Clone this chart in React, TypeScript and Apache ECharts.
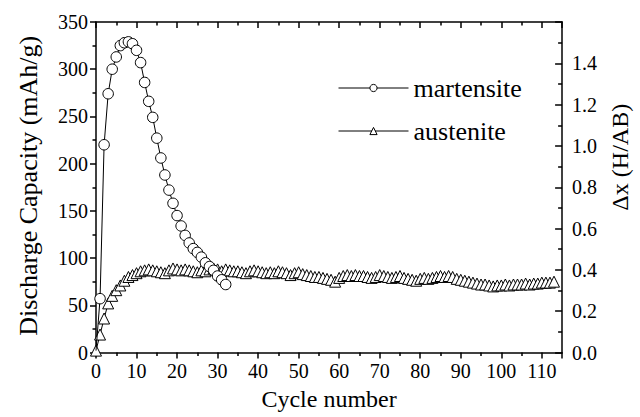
import React, { useEffect, useRef } from "react";
import * as echarts from "echarts";

const martensiteCycles = [0, 1, 2, 3, 4, 5, 6, 7, 8, 9, 10, 11, 12, 13, 14, 15, 16, 17, 18, 19, 20, 21, 22, 23, 24, 25, 26, 27, 28, 29, 30, 31, 32];
const martensiteCapacity = [2, 57, 220, 274, 300, 313, 325, 328, 329, 327, 320, 307, 286, 266, 249, 227, 206, 188, 172, 158, 145, 134, 124, 116, 110, 106, 101, 95, 91, 87, 81, 77, 72];

const austeniteCapacity = [
  2, 19, 36, 52, 60, 66, 71, 76, 80, 82,
  84, 86, 87, 88, 87, 86, 85, 84, 87, 89,
  88, 87, 88, 87, 86, 85, 87, 86, 88, 89,
  88, 86, 88, 87, 86, 86, 85, 84, 86, 87,
  86, 85, 84, 85, 84, 86, 85, 84, 82, 84,
  85, 83, 82, 81, 80, 80, 79, 78, 77, 75,
  79, 81, 82, 81, 82, 81, 81, 80, 79, 80,
  82, 81, 80, 79, 80, 81, 79, 78, 77, 76,
  78, 79, 78, 79, 80, 81, 80, 81, 80, 78,
  77, 76, 75, 74, 73, 72, 72, 71, 70, 71,
  71, 72, 71, 72, 72, 72, 73, 72, 73, 73,
  74, 74, 74, 75,
];

const xTicks = { min: 0, max: 115, interval: 10 };
const leftTicks = { min: 0, max: 350, interval: 50 };
const rightTicks = { min: 0, max: 1.6, interval: 0.2 };

const FONT = "Liberation Serif";

export default function App() {
  const ref = useRef<HTMLDivElement>(null);
  useEffect(() => {
    if (!ref.current) return;
    document.body.style.margin = "0";
    const chart = echarts.init(ref.current, null, { renderer: "svg" });
    const lineStyle = { color: "#000", width: 1 };
    const axisLine = { show: true, onZero: false, lineStyle: { color: "#000", width: 1.5 } };
    const label = { color: "#000", fontFamily: FONT, fontSize: 20 };
    const nameStyle = { color: "#000", fontFamily: FONT, fontSize: 24 };
    chart.setOption({
      animation: false,
      backgroundColor: "#fff",
      textStyle: { fontFamily: FONT },
      grid: { left: 96, right: 71, top: 22, bottom: 64.5, containLabel: false },
      legend: {
        left: 333,
        top: 70,
        orient: "vertical",
        itemWidth: 70,
        itemHeight: 9,
        itemGap: 17,
        lineStyle: { color: "#000", width: 1 },
        itemStyle: { color: "#fff", borderColor: "#000", borderWidth: 1 },
        textStyle: { color: "#000", fontFamily: FONT, fontSize: 26, lineHeight: 26 },
        data: ["martensite", "austenite"],
      },
      xAxis: [
        {
          type: "value",
          min: xTicks.min,
          max: xTicks.max,
          interval: xTicks.interval,
          position: "bottom",
          name: "Cycle number",
          nameLocation: "middle",
          nameGap: 34,
          nameTextStyle: nameStyle,
          axisLine,
          axisTick: { show: true, inside: false, length: 6, lineStyle: { color: "#000", width: 1.5 } },
          minorTick: { show: true, splitNumber: 2, length: 3.5, lineStyle: { color: "#000", width: 1.5 } },
          axisLabel: { ...label, margin: 8, showMaxLabel: false },
          splitLine: { show: false },
        },
        {
          type: "value",
          min: xTicks.min,
          max: xTicks.max,
          interval: xTicks.interval,
          position: "top",
          axisLine,
          axisTick: { show: true, inside: true, length: 6, lineStyle: { color: "#000", width: 1.5 } },
          minorTick: { show: true, splitNumber: 2, length: 3.5, lineStyle: { color: "#000", width: 1.5 } },
          axisLabel: { show: false },
          splitLine: { show: false },
        },
      ],
      yAxis: [
        {
          type: "value",
          min: leftTicks.min,
          max: leftTicks.max,
          interval: leftTicks.interval,
          position: "left",
          name: "Discharge Capacity (mAh/g)",
          nameLocation: "middle",
          nameGap: 55,
          nameRotate: 90,
          nameTextStyle: { ...nameStyle, fontSize: 26, padding: [0, 0, 0, 3] },
          axisLine,
          axisTick: { show: true, inside: false, length: 6, lineStyle: { color: "#000", width: 1.5 } },
          minorTick: { show: true, splitNumber: 2, length: 3.5, lineStyle: { color: "#000", width: 1.5 } },
          axisLabel: { ...label, margin: 8 },
          splitLine: { show: false },
        },
        {
          type: "value",
          min: rightTicks.min,
          max: rightTicks.max,
          interval: rightTicks.interval,
          position: "right",
          name: "\u0394x (H/AB)",
          nameLocation: "middle",
          nameGap: 40,
          nameRotate: 90,
          nameTextStyle: { ...nameStyle, padding: [0, 0, 0, 60] },
          axisLine,
          axisTick: { show: true, inside: true, length: 7, lineStyle: { color: "#000", width: 1.5 } },
          minorTick: { show: true, splitNumber: 2, length: 4, lineStyle: { color: "#000", width: 1.5 } },
          axisLabel: {
            ...label,
            margin: 10,
            showMaxLabel: false,
            formatter: (v: number) => v.toFixed(1),
          },
          splitLine: { show: false },
        },
      ],
      series: [
        {
          name: "austenite",
          type: "line",
          xAxisIndex: 0,
          yAxisIndex: 0,
          data: austeniteCapacity.map((v, i) => [i, v]),
          symbol: "triangle",
          symbolSize: 11,
          lineStyle,
          itemStyle: { color: "#fff", borderColor: "#000", borderWidth: 1 },
          z: 2,
        },
        {
          name: "martensite",
          type: "line",
          xAxisIndex: 0,
          yAxisIndex: 0,
          data: martensiteCycles.map((c, i) =>
            c === 0 ? { value: [c, martensiteCapacity[i]], symbol: "none" } : [c, martensiteCapacity[i]]
          ),
          symbol: "circle",
          symbolSize: 10.5,
          lineStyle,
          itemStyle: { color: "#fff", borderColor: "#000", borderWidth: 1 },
          z: 3,
        },
      ],
    });
    return () => chart.dispose();
  }, []);
  return <div ref={ref} style={{ width: 640, height: 417 }} />;
}
